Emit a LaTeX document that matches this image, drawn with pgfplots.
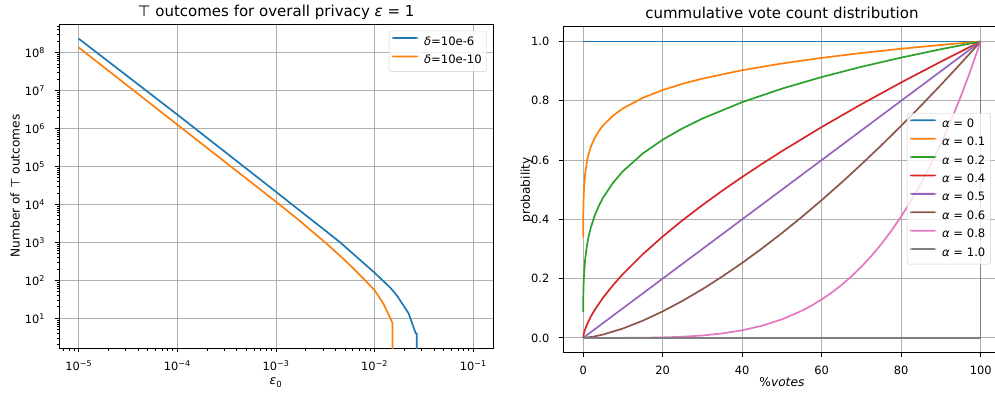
\documentclass[border=0pt]{standalone}
\usepackage{pgfplots}
\pgfplotsset{compat=1.18}
\usepackage{fontspec}
\setmainfont{DejaVu Sans}
\definecolor{c0}{HTML}{1F77B4}
\definecolor{c1}{HTML}{FF7F0E}
\definecolor{c2}{HTML}{2CA02C}
\definecolor{c3}{HTML}{D62728}
\definecolor{c4}{HTML}{9467BD}
\definecolor{c5}{HTML}{8C564B}
\definecolor{c6}{HTML}{E377C2}
\definecolor{c7}{HTML}{7F7F7F}
\definecolor{gridgray}{HTML}{B0B0B0}
\definecolor{leggray}{HTML}{CCCCCC}
\newcommand\tfont{\fontsize{11.4}{13.7}\selectfont}
\newcommand\lfont{\fontsize{12.2}{14.6}\selectfont}
\newcommand\gfont{\fontsize{11.6}{13.9}\selectfont}
\newcommand\ttlfont{\fontsize{15}{18}\selectfont}
\begin{document}
\begin{tikzpicture}
\useasboundingbox (0,0) rectangle (995pt,394pt);
\pgfplotsset{
  myax/.style={
    scale only axis,
    anchor=south west,
    grid=major,
    major grid style={color=gridgray, line width=0.9pt},
    tick align=outside,
    tick pos=left,
    major tick length=4.5pt,
    minor tick length=2.5pt,
    every tick/.style={black, line width=0.9pt},
    every minor tick/.style={black, line width=0.7pt},
    axis line style={line width=0.9pt},
    tick label style={font=\tfont},
    /pgf/number format/assume math mode=true,
    legend cell align=left,
    legend style={font=\gfont, draw=leggray, rounded corners=2pt, fill=white, fill opacity=0.8, text opacity=1,
      inner sep=3pt, row sep=2.4pt, column sep=4pt,
      nodes={inner sep=2pt, text height=9pt, text depth=3pt}},
    legend image code/.code={\fill[##1, draw=none, fill opacity=1] (0pt,3.1pt) rectangle (26pt,4.9pt);},
    every axis plot/.append style={line width=1.7pt},
  }
}
\begin{axis}[myax,
  at={(59pt,46pt)}, width=434pt, height=324pt,
  xmode=log, ymode=log, log basis x=10, log basis y=10,
  xmin=6.31e-6, xmax=0.1585, ymin=1.65, ymax=5.6e8,
  xtick={1e-5,1e-4,1e-3,1e-2,1e-1},
  xticklabels={10\textsuperscript{−5},10\textsuperscript{−4},10\textsuperscript{−3},10\textsuperscript{−2},10\textsuperscript{−1}},
  ytick={1e1,1e2,1e3,1e4,1e5,1e6,1e7,1e8},
  yticklabels={10\textsuperscript{1},10\textsuperscript{2},10\textsuperscript{3},10\textsuperscript{4},10\textsuperscript{5},10\textsuperscript{6},10\textsuperscript{7},10\textsuperscript{8}},
  minor xtick={7e-6,8e-6,9e-6,2e-5,3e-5,4e-5,5e-5,6e-5,7e-5,8e-5,9e-5,2e-4,3e-4,4e-4,5e-4,6e-4,7e-4,8e-4,9e-4,2e-3,3e-3,4e-3,5e-3,6e-3,7e-3,8e-3,9e-3,2e-2,3e-2,4e-2,5e-2,6e-2,7e-2,8e-2,9e-2},
  minor ytick={2,3,4,5,6,7,8,9,2e1,3e1,4e1,5e1,6e1,7e1,8e1,9e1,2e2,3e2,4e2,5e2,6e2,7e2,8e2,9e2,2e3,3e3,4e3,5e3,6e3,7e3,8e3,9e3,2e4,3e4,4e4,5e4,6e4,7e4,8e4,9e4,2e5,3e5,4e5,5e5,6e5,7e5,8e5,9e5,2e6,3e6,4e6,5e6,6e6,7e6,8e6,9e6,2e7,3e7,4e7,5e7,6e7,7e7,8e7,9e7,2e8,3e8,4e8,5e8},
  xticklabel shift=5pt,
  yticklabel shift=6pt,
  title={⊤ outcomes for overall privacy \textit{ε} = 1},
  every axis title/.style={at={(0.5,1)}, anchor=base, yshift=7.3pt, font=\ttlfont},
  xlabel={\textit{ε}\textsubscript{0}},
  every axis x label/.style={at={(axis description cs:0.5,-0.114)}, anchor=base, font=\lfont},
  ylabel={Number of ⊤ outcomes},
  every axis y label/.style={at={(axis description cs:-0.1014,0.5)}, anchor=center, rotate=90, font=\lfont},
  legend style={at={(0.986,0.979)}, anchor=north east},
]
\addplot[c0] coordinates {
 (1e-5,2.3e8) (1e-4,2.3e6) (1e-3,2.14e4) (0.002,5164) (0.00316,2042) (0.00446,1000) (0.007,357)
 (0.01,158) (0.0144,64) (0.0168,40) (0.0221,13.5) (0.0261,4.0) (0.0267,4.0) (0.0267,0.1)
};
\addlegendentry{\textit{δ}=10e-6}
\addplot[c1] coordinates {
 (1e-5,1.35e8) (1e-4,1.25e6) (1e-3,1.17e4) (0.00178,3508) (0.00237,1862) (0.00316,989)
 (0.00398,575) (0.00501,335) (0.00708,139) (0.01,54.7) (0.0123,24) (0.0142,11)
 (0.0152,7.4) (0.0152,0.1)
};
\addlegendentry{\textit{δ}=10e-10}
\end{axis}

\begin{axis}[myax,
  at={(563.3pt,41.3pt)}, width=437.2pt, height=326pt,
  xmin=-5, xmax=105, ymin=-0.05, ymax=1.05,
  xtick={0,20,40,60,80,100},
  xticklabels={0,20,40,60,80,100},
  ytick={0,0.2,0.4,0.6,0.8,1},
  yticklabels={0.0,0.2,0.4,0.6,0.8,1.0},
  xticklabel shift=5pt,
  yticklabel shift=6pt,
  title={cummulative vote count distribution},
  every axis title/.style={at={(0.5,1)}, anchor=base, yshift=8.4pt, font=\ttlfont},
  xlabel={\%\textit{votes}},
  every axis x label/.style={at={(axis description cs:0.5,-0.104)}, anchor=base, font=\lfont},
  ylabel={probability},
  every axis y label/.style={at={(axis description cs:-0.0842,0.5)}, anchor=center, rotate=90, font=\lfont},
  legend style={at={(0.786,0.735)}, anchor=north west},
]
\addplot[c0] coordinates {(0,1) (100,1)};
\addlegendentry{\textit{α} = 0}
\addplot[c1] coordinates {
 (0.006,0.3396) (0.02,0.3881) (0.05,0.4298) (0.1,0.4642) (0.2,0.5013) (0.5,0.5550) (1,0.5995)
 (1.5,0.6271) (2,0.6475) (3,0.6773) (4,0.6993)
 (5,0.7169) (7.5,0.7499) (10,0.7743) (15,0.8099) (20,0.8363) (25,0.8573) (30,0.8748)
 (40,0.9032) (50,0.9259) (60,0.9448) (70,0.9612) (80,0.9755) (90,0.9884) (100,1)
};
\addlegendentry{\textit{α} = 0.1}
\addplot[c2] coordinates {
 (0.006,0.0880) (0.02,0.1189) (0.05,0.1496) (0.1,0.1778) (0.2,0.2115) (0.5,0.2659) (1,0.3162)
 (1.5,0.3500) (2,0.3761) (3,0.4162) (4,0.4472)
 (5,0.4729) (7.5,0.5233) (10,0.5623) (15,0.6223) (20,0.6687) (25,0.7071) (30,0.7401)
 (40,0.7953) (50,0.8409) (60,0.8801) (70,0.9147) (80,0.9457) (90,0.9740) (100,1)
};
\addlegendentry{\textit{α} = 0.2}
\addplot[c3] coordinates {
 (0,0) (0.05,0.0063) (0.2,0.0159) (0.5,0.0292) (1,0.0464) (2,0.0737) (3,0.0965)
 (5,0.1357) (7.5,0.1778) (10,0.2154) (15,0.2823) (20,0.3420) (25,0.3969) (30,0.4481)
 (35,0.4966) (40,0.5429) (45,0.5872) (50,0.6300) (60,0.7114) (70,0.7884) (80,0.8618)
 (90,0.9321) (100,1)
};
\addlegendentry{\textit{α} = 0.4}
\addplot[c4] coordinates {(0,0) (100,1)};
\addlegendentry{\textit{α} = 0.5}
\addplot[c5] coordinates {
 (0,0) (2.5,0.0040) (5,0.0112) (10,0.0316) (15,0.0581) (20,0.0894) (25,0.125) (30,0.1643)
 (35,0.2071) (40,0.2530) (45,0.3019) (50,0.3536) (55,0.4079) (60,0.4648) (65,0.5240)
 (70,0.5857) (75,0.6495) (80,0.7155) (85,0.7837) (90,0.8538) (95,0.9260) (100,1)
};
\addlegendentry{\textit{α} = 0.6}
\addplot[c6] coordinates {
 (0,0) (10,0.0001) (15,0.0005) (20,0.0016) (25,0.0039) (30,0.0081) (35,0.0150) (40,0.0256)
 (45,0.0410) (50,0.0625) (55,0.0915) (57.5,0.1093) (60,0.1296) (62.5,0.1526) (65,0.1785)
 (67.5,0.2076) (70,0.2401) (72.5,0.2763) (75,0.3164) (77.5,0.3607) (80,0.4096)
 (82.5,0.4633) (85,0.5220) (87.5,0.5862) (90,0.6561) (92.5,0.7321) (95,0.8145)
 (97.5,0.9037) (100,1)
};
\addlegendentry{\textit{α} = 0.8}
\addplot[c7] coordinates {(0,0) (100,0) (100,1)};
\addlegendentry{\textit{α} = 1.0}
\end{axis}
\end{tikzpicture}
\end{document}
